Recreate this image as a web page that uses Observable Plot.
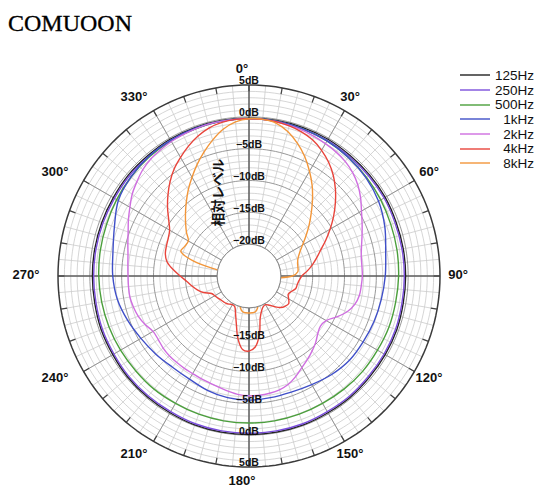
<!DOCTYPE html>
<html>
<head>
<meta charset="utf-8">
<script src="https://cdn.jsdelivr.net/npm/d3@7"></script>
<script src="https://cdn.jsdelivr.net/npm/@observablehq/plot@0.6"></script>
<style>
  html, body { margin: 0; padding: 0; background: #fff; }
  body { width: 534px; height: 488px; position: relative; overflow: hidden; font-family: "Liberation Sans", Arial, sans-serif; }
  #title { position: absolute; left: 8px; top: 11px; font-family: "Liberation Serif", "Times New Roman", serif; font-size: 24px; line-height: 24px; color: #000; -webkit-text-stroke: 0.3px #000; }
  #chart { position: absolute; left: 0; top: 40px; }
  #legend { position: absolute; left: 459px; top: 68px; }
  .row { display: flex; align-items: center; height: 14.7px; }
  .row span { width: 44px; text-align: right; font-size: 13.5px; color: #111; }
</style>
</head>
<body>
<div id="title">COMUOON</div>
<div id="chart"></div>
<div id="legend"></div>
<script>
// Directivity pattern: relative level (dB) versus angle (degrees, clockwise from 0° at top)

const seriesNames = ["125Hz", "250Hz", "500Hz", "1kHz", "2kHz", "4kHz", "8kHz"];
const seriesColors = ["#222222", "#7b4fdc", "#4b9f3c", "#3f4fc8", "#cf6ee0", "#e8443b", "#f2963a"];

// 10-degree sampling for the broad low-frequency patterns
const angles10 = d3.range(0, 360, 10);
const level125 = [-0.2,-0.2,-0.2,-0.2,-0.3,-0.3,-0.3,-0.4,-0.4,-0.4,-0.4,-0.3,-0.3,-0.3,-0.2,-0.2,-0.1,-0.1,
                  -0.1,-0.1,-0.1,-0.2,-0.2,-0.2,-0.3,-0.3,-0.4,-0.4,-0.4,-0.4,-0.4,-0.3,-0.3,-0.2,-0.2,-0.2];
const level250 = [-0.3,-0.3,-0.4,-0.4,-0.5,-0.5,-0.5,-0.6,-0.6,-0.6,-0.6,-0.5,-0.5,-0.5,-0.4,-0.4,-0.3,-0.3,
                  -0.3,-0.3,-0.3,-0.4,-0.4,-0.4,-0.5,-0.5,-0.6,-0.6,-0.6,-0.6,-0.6,-0.5,-0.5,-0.4,-0.4,-0.3];
const level500 = [-0.3,-0.3,-0.4,-0.5,-0.7,-0.9,-1.1,-1.3,-1.4,-1.5,-1.6,-1.6,-1.7,-1.7,-1.8,-1.9,-1.9,-1.9,
                  -1.9,-1.9,-1.9,-1.9,-1.8,-1.8,-1.7,-1.6,-1.5,-1.4,-1.3,-1.2,-1.0,-0.8,-0.6,-0.5,-0.4,-0.3];
const level1k  = [-0.3,-0.3,-0.4,-0.5,-0.7,-1.0,-1.5,-2.3,-3.2,-3.6,-3.9,-4.1,-4.3,-4.4,-4.8,-5.3,-5.6,-5.6,
                  -5.5,-5.6,-5.9,-6.3,-6.3,-5.9,-5.4,-4.7,-4.0,-3.6,-3.3,-2.5,-1.3,-0.8,-0.5,-0.4,-0.3,-0.3];

// 5-degree sampling for the narrower high-frequency patterns
const angles5 = d3.range(0, 360, 5);
const level2k = [-0.3,-0.3,-0.4,-0.5,-0.6,-0.8,-1.0,-1.2,-1.5,-2.0,-2.7,-3.6,-4.6,-5.4,-6.1,-6.7,-7.1,-7.2,
                 -7.2,-7.3,-7.4,-7.8,-8.6,-9.8,-11.0,-11.3,-10.9,-10.2,-9.6,-9.0,-8.4,-7.6,-6.9,-6.5,-6.3,-6.2,
                 -6.2,-6.3,-6.6,-6.9,-7.1,-7.2,-7.3,-7.3,-7.3,-7.3,-7.4,-7.6,-7.6,-7.0,-6.5,-6.2,-6.0,-6.0,
                 -6.0,-5.9,-5.7,-5.3,-4.8,-4.1,-3.4,-2.6,-2.0,-1.4,-1.0,-0.8,-0.6,-0.5,-0.4,-0.3,-0.3,-0.3];
const level4k = [-0.3,-0.3,-0.4,-0.6,-0.9,-1.4,-2.2,-3.2,-4.4,-5.8,-7.3,-8.8,-10.3,-11.7,-13.0,-14.0,-14.9,-15.8,
                 -16.7,-17.1,-17.3,-17.4,-17.9,-18.2,-17.8,-17.4,-17.6,-18.0,-18.7,-19.4,-19.8,-19.7,-19.2,-18.2,-15.6,-13.8,
                 -13.2,-13.4,-15.0,-17.3,-18.8,-19.7,-19.8,-19.6,-19.4,-19.3,-19.2,-19.0,-18.8,-18.5,-17.4,-16.6,-15.9,-15.2,
                 -14.2,-13.0,-11.9,-11.4,-11.2,-11.0,-10.6,-9.6,-8.3,-7.0,-5.7,-4.5,-3.5,-2.5,-1.6,-0.9,-0.5,-0.3];
const level8k = [-0.3,-0.3,-0.6,-1.5,-2.8,-4.3,-6.0,-7.7,-9.5,-11.2,-12.7,-14.1,-15.3,-16.2,-16.8,-17.1,-17.2,-17.3,
                 -18.2,-21.0,-22.0,-22.0,-22.0,-22.0,-22.0,-22.0,-22.0,-22.0,-22.0,-22.0,-22.0,-22.0,-21.0,-19.8,-19.3,-19.2,
                 -19.2,-19.2,-19.3,-19.8,-21.0,-22.0,-22.0,-22.0,-22.0,-22.0,-22.0,-22.0,-22.0,-22.0,-22.0,-22.0,-22.0,-22.0,
                 -22.0,-22.0,-20.5,-16.0,-13.6,-13.9,-14.0,-13.0,-12.0,-10.9,-9.7,-8.4,-7.1,-5.7,-4.3,-2.9,-1.6,-0.7];

// Radial axis (dB) and angular axis labels
const dbRings = d3.range(-20, 6, 1);
const dbMajor = [-20, -15, -10, -5, 0];
const dbTop = [5, 0, -5, -10, -15, -20];
const dbBottom = [5, 0, -5, -10, -15];
const angleTicks = d3.range(0, 360, 30);
const axisTitle = "相対レベル";

// ---- geometry ----
const W = 534, H = 448;
const cx = 248.5, cy = 235.5;           // pole position inside the svg
const dbMin = -25, dbMax = 5;           // radius 0 ↔ -25 dB, outer ring ↔ +5 dB
const outerPx = 191;
const k = outerPx / (dbMax - dbMin);    // px per dB
const rad = db => db - dbMin;
const polar = (deg, rho) => {
  const t = deg * Math.PI / 180;
  return {x: rho * Math.sin(t), y: rho * Math.cos(t)};
};

const table = [];
const add = (name, angles, levels) => angles.forEach((a, i) => {
  table.push({series: name, ...polar(a, rad(Math.max(levels[i], -24)))});
});
add("125Hz", angles10, level125);
add("250Hz", angles10, level250);
add("500Hz", angles10, level500);
add("1kHz", angles10, level1k);
add("2kHz", angles5, level2k);
add("4kHz", angles5, level4k);
add("8kHz", angles5, level8k);

// grid circles
const circle = (db) => d3.range(0, 361, 2).map(a => ({ring: db, ...polar(a, rad(db))}));
const minorRings = dbRings.filter(d => d % 5 !== 0).flatMap(circle);
const majorRings = dbMajor.flatMap(circle);
const outerRing = circle(5);

// spokes
const spoke = (a, db0, db1) => {
  const p = polar(a, rad(db0)), q = polar(a, rad(db1));
  return {x1: p.x, y1: p.y, x2: q.x, y2: q.y};
};
const minorSpokes = [
  ...d3.range(0, 360, 10).map(a => spoke(a, -20, 5)),
  ...d3.range(5, 360, 10).map(a => spoke(a, -10, 5))
];
const majorSpokes = angleTicks.map(a => spoke(a, -20, 5));
const axisSpokes = [0, 90, 180, 270].map(a => spoke(a, -20, 5));
const rimTicks = d3.range(0, 360, 10).map(a => spoke(a, 4, 5));

const angleLabelRx = 216 / k, angleLabelRy = 206 / k;
const angleLabels = angleTicks.map(a => {
  const t = a * Math.PI / 180;
  return {x: angleLabelRx * Math.sin(t), y: angleLabelRy * Math.cos(t), text: `${a}°`};
});
const dbLabels = [
  ...dbTop.map(d => ({x: 0, y: rad(d), text: `${d < 0 ? "−" : ""}${Math.abs(d)}dB`})),
  ...dbBottom.map(d => ({x: 0, y: -rad(d), text: `${d < 0 ? "−" : ""}${Math.abs(d)}dB`}))
];

const chart = Plot.plot({
  width: W,
  height: H,
  margin: 0,
  x: {domain: [-cx / k, (W - cx) / k], range: [0, W], axis: null},
  y: {domain: [(cy - H) / k, cy / k], range: [H, 0], axis: null},
  color: {domain: seriesNames, range: seriesColors},
  style: {background: "white"},
  marks: [
    Plot.line(minorRings, {x: "x", y: "y", z: "ring", stroke: "#cccccc", strokeWidth: 0.8}),
    Plot.link(minorSpokes, {x1: "x1", y1: "y1", x2: "x2", y2: "y2", stroke: "#cccccc", strokeWidth: 0.8}),
    Plot.line(majorRings, {x: "x", y: "y", z: "ring", stroke: "#8c8c8c", strokeWidth: 0.9}),
    Plot.link(majorSpokes, {x1: "x1", y1: "y1", x2: "x2", y2: "y2", stroke: "#8c8c8c", strokeWidth: 0.9}),
    Plot.link(axisSpokes, {x1: "x1", y1: "y1", x2: "x2", y2: "y2", stroke: "#444", strokeWidth: 1}),
    Plot.link(rimTicks, {x1: "x1", y1: "y1", x2: "x2", y2: "y2", stroke: "#444", strokeWidth: 1.2}),
    Plot.line(outerRing, {x: "x", y: "y", stroke: "#3a3a3a", strokeWidth: 1.5}),
    Plot.line(table, {x: "x", y: "y", z: "series", stroke: "series", curve: "catmull-rom-closed", strokeWidth: 1.4}),
    Plot.dot([{x: 0, y: 0}], {x: "x", y: "y", r: rad(-20) * k, fill: "white", stroke: "#888", strokeWidth: 1}),
    Plot.text(dbLabels, {x: "x", y: "y", text: "text", dy: -4, fontSize: 10.5, fontWeight: "bold", fill: "#111",
      fontFamily: "Liberation Sans, Arial, sans-serif"}),
    Plot.text(angleLabels, {x: "x", y: "y", text: "text", dx: -7, dy: -1, fontSize: 13, fontWeight: "bold", fill: "#111",
      fontFamily: "Liberation Sans, Arial, sans-serif"}),
    Plot.text([{x: -30.5 / k, y: (cy - 152) / k}], {x: "x", y: "y", text: () => axisTitle, rotate: -90,
      fontSize: 13.5, fontWeight: "bold", fill: "#111", fontFamily: "Noto Sans CJK JP, sans-serif"})
  ]
});
document.getElementById("chart").appendChild(chart);

// legend: line swatch + right-aligned label
const legend = d3.select("#legend");
seriesNames.forEach((name, i) => {
  const row = legend.append("div").attr("class", "row");
  const s = row.append("svg").attr("width", 31).attr("height", 14);
  s.append("line").attr("x1", 1).attr("x2", 31).attr("y1", 7).attr("y2", 7)
    .attr("stroke", seriesColors[i]).attr("stroke-width", 1.4);
  row.append("span").text(name);
});
</script>
</body>
</html>
